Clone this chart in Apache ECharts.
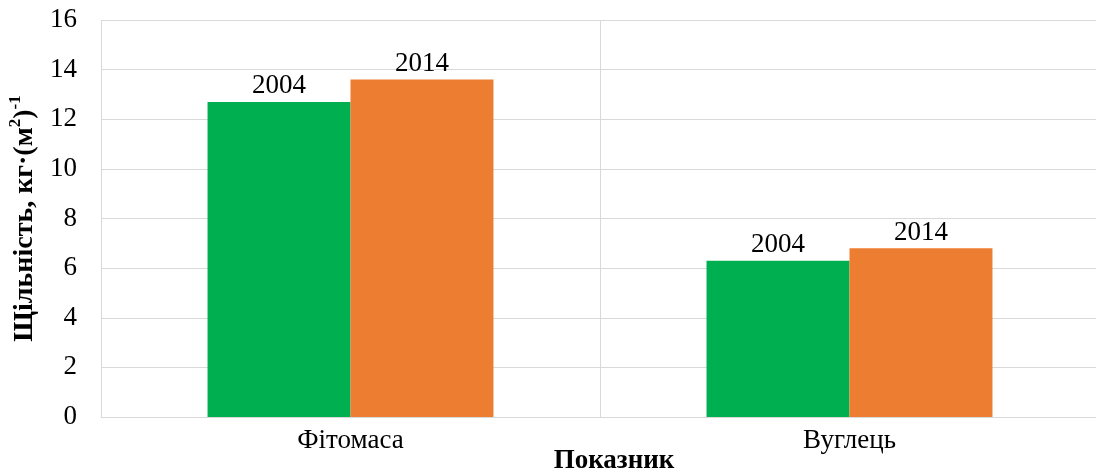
<!DOCTYPE html>
<html>
<head>
<meta charset="utf-8">
<script src="https://cdn.jsdelivr.net/npm/echarts@6/dist/echarts.min.js"></script>
<style>
  html, body { margin: 0; padding: 0; background: #fff; }
  #chart { width: 1096px; height: 475px; }
</style>
</head>
<body>
<div id="chart"></div>
<script>
// Biomass and carbon density by indicator, 2004 vs 2014
const categories = ['Фітомаса', 'Вуглець'];
const seriesNames = ['2004', '2014'];
const values2004 = [12.7, 6.3];
const values2014 = [13.6, 6.8];
const yTicks = { min: 0, max: 16, interval: 2 };

const serif = '"Liberation Serif", "Times New Roman", serif';
const chart = echarts.init(document.getElementById('chart'), null, { renderer: 'canvas' });

function barSeries(name, data, color) {
  return {
    name: name,
    type: 'bar',
    data: data,
    barGap: '0%',
    barCategoryGap: '42.7%',
    itemStyle: { color: color },
    label: {
      show: true,
      position: 'top',
      distance: 2,
      formatter: '{a}',
      fontFamily: serif,
      fontSize: 27,
      color: '#000'
    }
  };
}

chart.setOption({
  animation: false,
  grid: {
    left: 101, right: -3, top: 20, bottom: 58,
    containLabel: false,
    outerBoundsMode: 'none'
  },
  xAxis: {
    type: 'category',
    data: categories,
    axisLine: { show: true, lineStyle: { color: '#d9d9d9', width: 1 } },
    axisTick: { show: false },
    splitLine: { show: true, lineStyle: { color: '#d9d9d9', width: 1 } },
    axisLabel: { fontFamily: serif, fontSize: 27, color: '#000', margin: 10 },
    name: 'Показник',
    nameLocation: 'middle',
    nameGap: 31,
    nameMoveOverlap: false,
    nameTextStyle: {
      fontFamily: serif, fontSize: 27, fontWeight: 'bold', color: '#000',
      padding: [0, 0, 0, 28]
    }
  },
  yAxis: {
    type: 'value',
    min: yTicks.min,
    max: yTicks.max,
    interval: yTicks.interval,
    axisLine: { show: false },
    axisTick: { show: false },
    splitLine: { show: true, lineStyle: { color: '#d9d9d9', width: 1 } },
    axisLabel: { fontFamily: serif, fontSize: 27, color: '#000', margin: 24 },
    name: '{m|Щільність, кг·(м}{s|2}{m|)}{s|-1}',
    nameLocation: 'middle',
    nameRotate: 90,
    nameGap: 62,
    nameMoveOverlap: false,
    nameTextStyle: {
      rich: {
        m: { fontFamily: serif, fontSize: 28, fontWeight: 'bold', color: '#000', verticalAlign: 'bottom', lineHeight: 32 },
        s: { fontFamily: serif, fontSize: 17, fontWeight: 'bold', color: '#000', verticalAlign: 'top', lineHeight: 32 }
      }
    }
  },
  series: [
    barSeries(seriesNames[0], values2004, '#00b050'),
    barSeries(seriesNames[1], values2014, '#ed7d31')
  ]
});
</script>
</body>
</html>
